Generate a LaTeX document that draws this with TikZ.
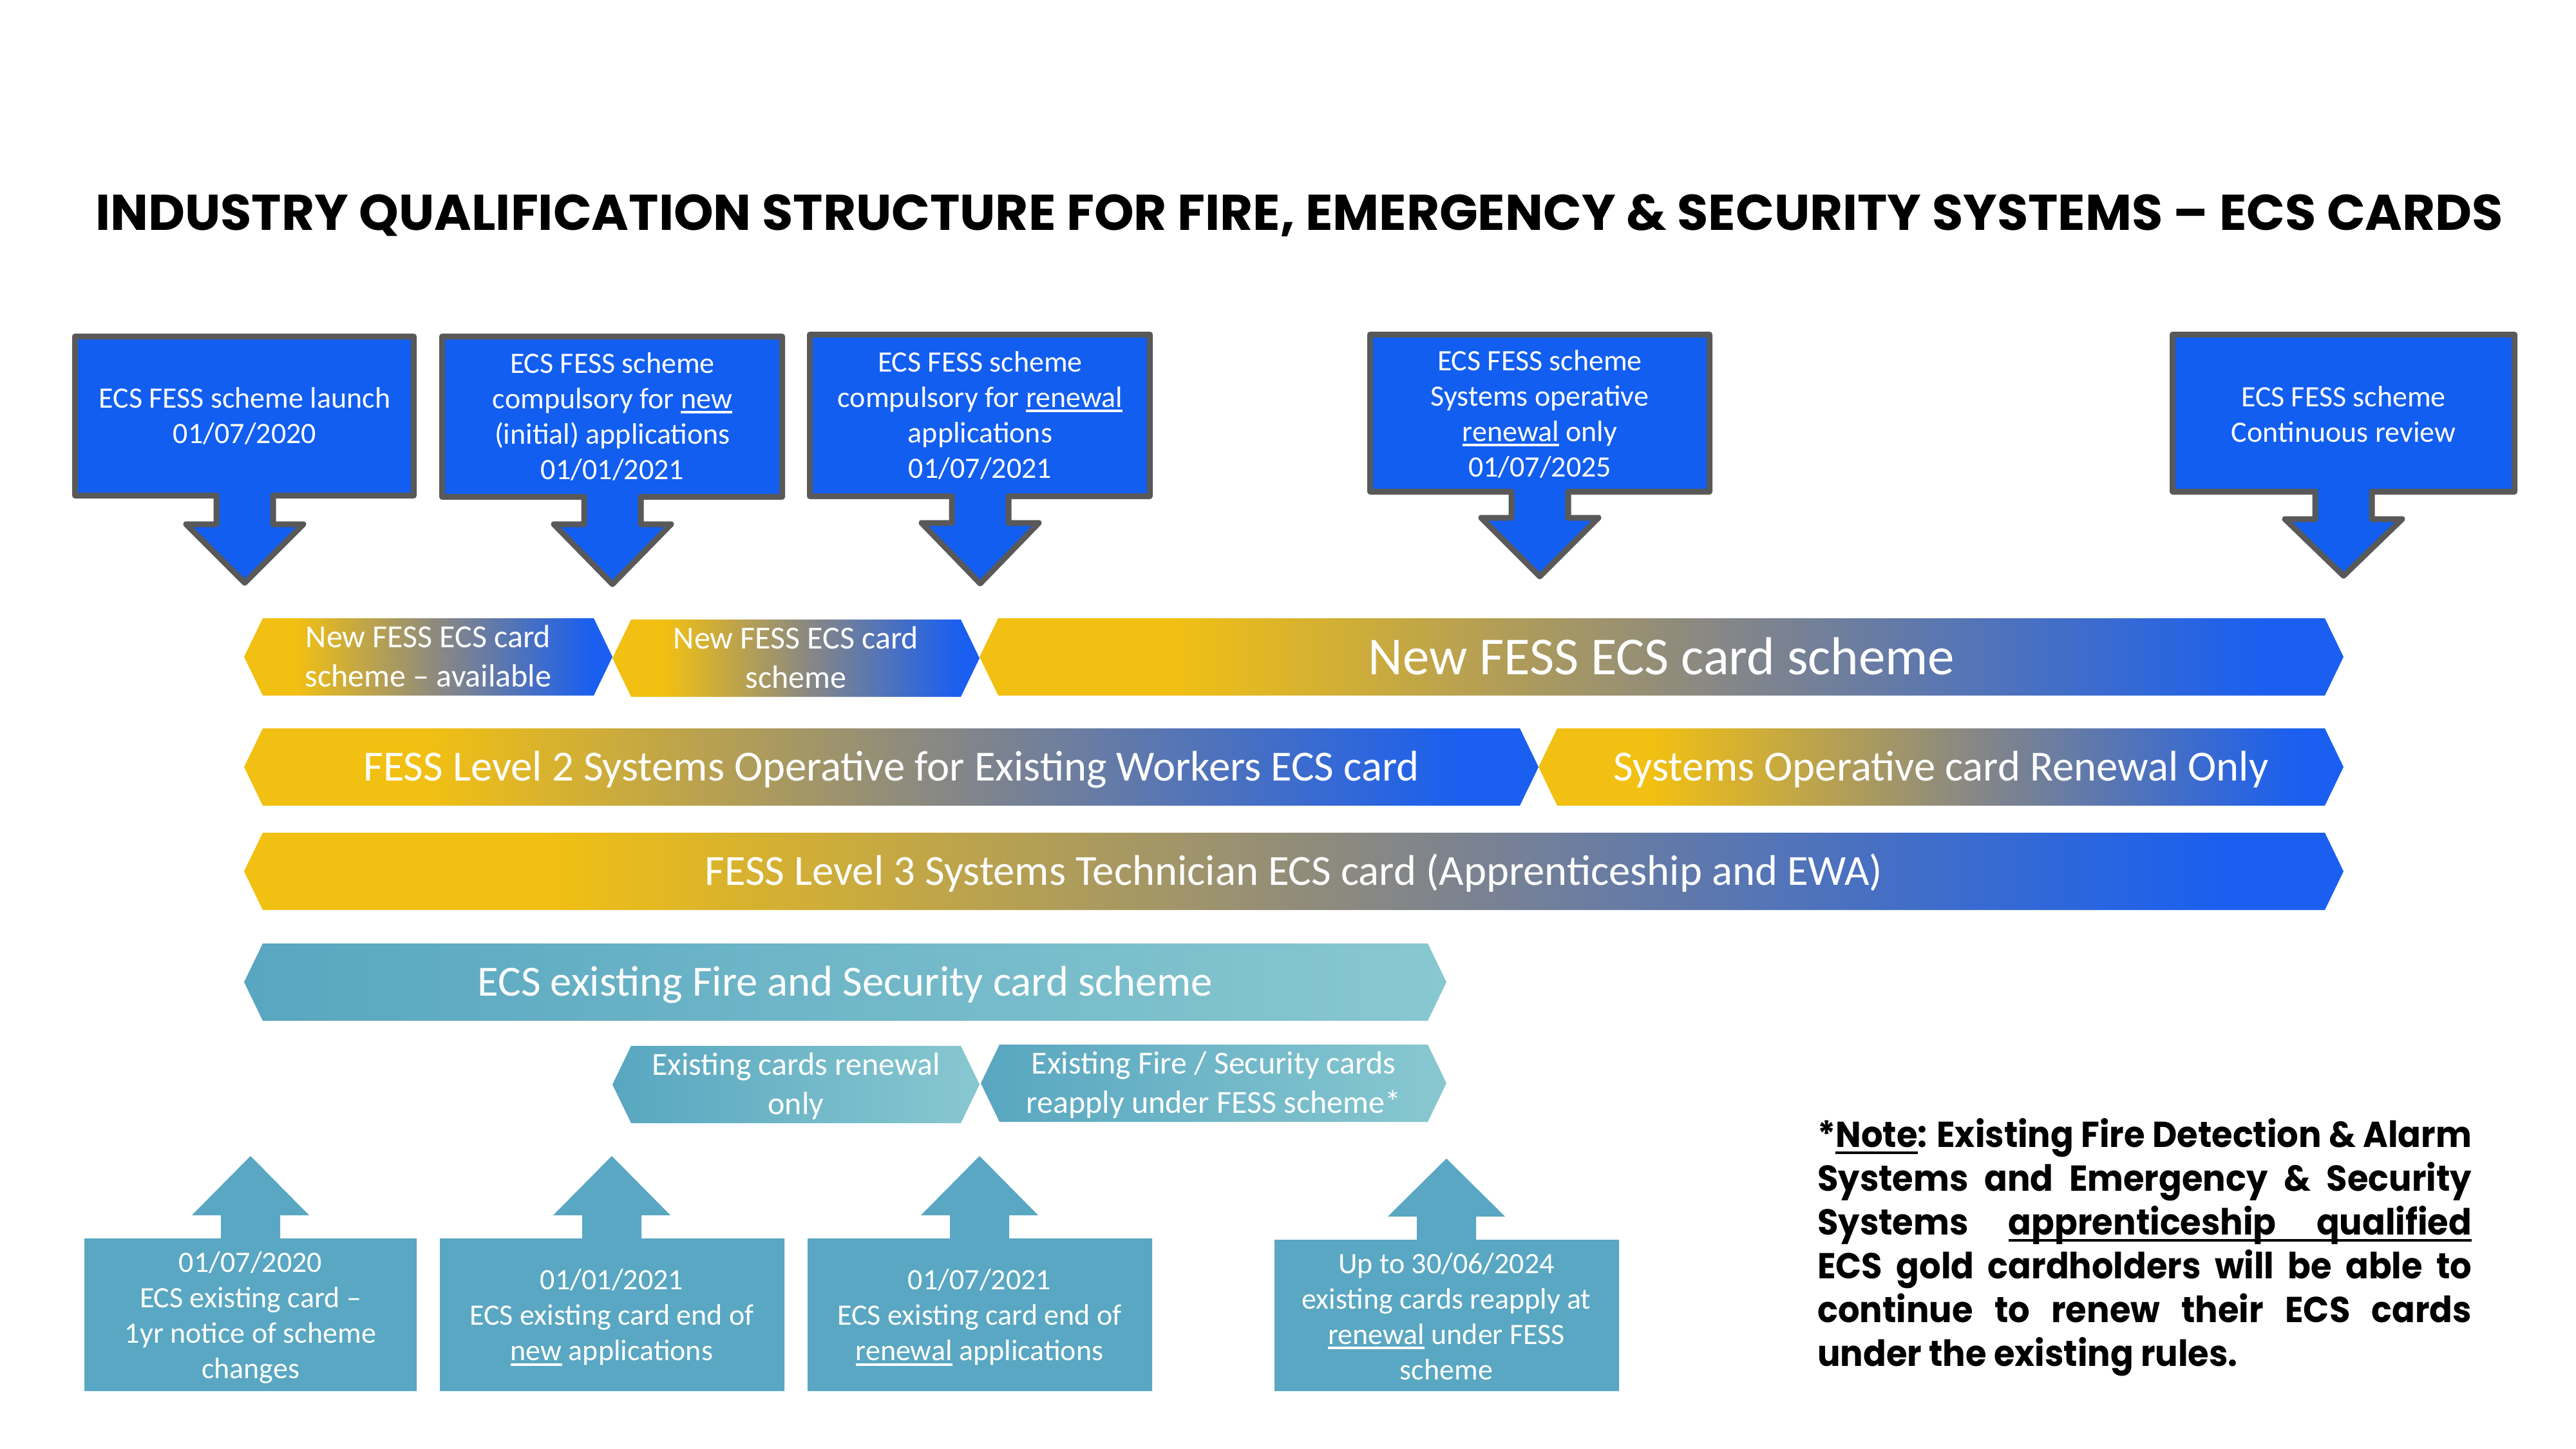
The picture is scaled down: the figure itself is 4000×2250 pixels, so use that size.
\documentclass[tikz,border=0pt]{standalone}
\usepackage{fontspec}
\setmainfont{Carlito}
\newfontfamily\headfont{Poppins}
\usepackage{graphicx}
\definecolor{boxblue}{RGB}{17,94,240}
\definecolor{boxgray}{RGB}{89,89,89}
\definecolor{ecsteal}{RGB}{89,167,194}
\pgfdeclarehorizontalshading{goldblue}{100bp}{rgb(0bp)=(0.949,0.753,0.071); rgb(32bp)=(0.949,0.753,0.071); rgb(52bp)=(0.53,0.53,0.52); rgb(72bp)=(0.102,0.373,0.937); rgb(100bp)=(0.102,0.373,0.937)}
\pgfdeclarehorizontalshading{tealgrad}{100bp}{rgb(0bp)=(0.345,0.651,0.753); rgb(25bp)=(0.345,0.651,0.753); rgb(75bp)=(0.533,0.784,0.816); rgb(100bp)=(0.533,0.784,0.816)}
\newcommand\ulw[1]{\leavevmode\setbox0=\hbox{#1}\rlap{\rule[-8pt]{\wd0}{4pt}}\box0\relax}
\newcommand\ulx[1]{\leavevmode\setbox0=\hbox{#1}\rlap{\rule[-11pt]{\wd0}{4.5pt}}\box0\relax}
\newcommand\notefont{\headfont\bfseries\fontsize{56}{68}\selectfont}
\newlength\noteW
\newlength\ulL
\newcommand\hexbar[4]{\shade[shading=#1] (#2,#4) -- ({#2+29},{#4-60}) -- ({#3-29},{#4-60}) -- (#3,#4) -- ({#3-29},{#4+60}) -- ({#2+29},{#4+60}) -- cycle;}
\newcommand\downbox[7]{\filldraw[callout] (#1,#3) -- (#2,#3) -- (#2,#4) -- ({#5+44},#4) -- ({#5+44},#6) -- ({#5+91},#6) -- (#5,#7) -- ({#5-91},#6) -- ({#5-44},#6) -- ({#5-44},#4) -- (#1,#4) -- cycle;}
\newcommand\upbox[7]{\fill[ecsteal] (#1,#3) -- ({#5-46},#3) -- ({#5-46},#6) -- ({#5-91},#6) -- (#5,#7) -- ({#5+91},#6) -- ({#5+46},#6) -- ({#5+46},#3) -- (#2,#3) -- (#2,#4) -- (#1,#4) -- cycle;}
\tikzset{
  callout/.style={fill=boxblue, draw=boxgray, line width=9pt, line join=round},
  boxtext/.style={text=white, inner sep=0pt, anchor=base, font=\fontsize{46}{55}\selectfont},
  bartext/.style={text=white, inner sep=0pt, anchor=base},
  smallbar/.style={bartext, font=\fontsize{50}{61}\selectfont},
  rowbar/.style={bartext, font=\fontsize{66.7}{80}\selectfont},
}
\begin{document}
\begin{tikzpicture}[x=1pt,y=-1pt]
\useasboundingbox (0,0) rectangle (4000,2250);
\fill[white] (0,0) rectangle (4000,2250);

% title
\node[anchor=base west, inner sep=0pt] (title) at (148,357) {\resizebox{3739pt}{\height}{\headfont\bfseries\fontsize{78}{86}\selectfont INDUSTRY QUALIFICATION STRUCTURE FOR FIRE, EMERGENCY \& SECURITY SYSTEMS – ECS CARDS}};

% top callouts
\downbox{116.5}{642.5}{522.5}{769.5}{380}{814}{905}
\downbox{686.5}{1214.5}{522.5}{771.5}{951}{814}{907}
\downbox{1257.5}{1785.5}{519.5}{770.5}{1522}{812}{906}
\downbox{2127.5}{2654.5}{519.5}{763.5}{2391}{804}{895}
\downbox{3373.5}{3904.5}{519.5}{763.5}{3639}{806}{894}

\node[boxtext] (t1) at (380,633.3) {\parbox[t]{520pt}{\centering ECS FESS scheme launch\\01/07/2020}};
\node[boxtext] (t2) at (951,579.3) {\parbox[t]{520pt}{\centering ECS FESS scheme\\compulsory for \ulw{new}\\(initial) applications\\01/01/2021}};
\node[boxtext] (t3) at (1522,577.3) {\parbox[t]{520pt}{\centering ECS FESS scheme\\compulsory for \ulw{renewal}\\applications\\01/07/2021}};
\node[boxtext] (t4) at (2391,575.3) {\parbox[t]{520pt}{\centering ECS FESS scheme\\Systems operative\\\ulw{renewal} only\\01/07/2025}};
\node[boxtext] (t5) at (3639,631.3) {\parbox[t]{520pt}{\centering ECS FESS scheme\\Continuous review}};

% bars
\hexbar{goldblue}{379}{951}{1020}
\hexbar{goldblue}{951}{1521}{1022}
\hexbar{goldblue}{1521}{3639}{1020}
\hexbar{goldblue}{379}{2389}{1191}
\hexbar{goldblue}{2389}{3639}{1191}
\hexbar{goldblue}{379}{3639}{1353}
\hexbar{tealgrad}{379}{2246}{1525}
\hexbar{tealgrad}{951}{1521}{1684}
\hexbar{tealgrad}{1523}{2246}{1682}

\node[smallbar] (b1) at (665,1005.6) {\parbox[t]{560pt}{\centering New FESS ECS card\\scheme – available}};
\node[smallbar] (b2) at (1236,1007.6) {\parbox[t]{560pt}{\centering New FESS ECS card\\scheme}};
\node[bartext, font=\fontsize{83}{100}\selectfont] (b3) at (2580,1047) {New FESS ECS card scheme};
\node[rowbar] (b4) at (1384,1212.5) {FESS Level 2 Systems Operative for Existing Workers ECS card};
\node[rowbar] (b5) at (3014,1212.5) {Systems Operative card Renewal Only};
\node[rowbar] (b6) at (2009,1374.5) {FESS Level 3 Systems Technician ECS card (Apprenticeship and EWA)};
\node[rowbar] (b7) at (1312.5,1546.5) {ECS existing Fire and Security card scheme};
\node[smallbar] (b8) at (1236,1669.6) {\parbox[t]{560pt}{\centering Existing cards renewal\\only}};
\node[smallbar] (b9) at (1884.5,1667.6) {\parbox[t]{700pt}{\centering Existing Fire / Security cards\\reapply under FESS scheme*}};

% bottom boxes
\upbox{131}{647}{1923}{2160}{389}{1887}{1795}
\upbox{683}{1218}{1923}{2160}{950}{1887}{1795}
\upbox{1254}{1789}{1923}{2160}{1521}{1887}{1795}
\upbox{1979}{2514}{1925}{2160}{2246}{1889}{1799}

\node[boxtext] (u1) at (389,1975.3) {\parbox[t]{520pt}{\centering 01/07/2020\\ECS existing card –\\1yr notice of scheme\\changes}};
\node[boxtext] (u2) at (950,2002.8) {\parbox[t]{520pt}{\centering 01/01/2021\\ECS existing card end of\\\ulw{new} applications}};
\node[boxtext] (u3) at (1521,2002.8) {\parbox[t]{520pt}{\centering 01/07/2021\\ECS existing card end of\\\ulw{renewal} applications}};
\node[boxtext] (u4) at (2246,1977.3) {\parbox[t]{520pt}{\centering Up to 30/06/2024\\existing cards reapply at\\\ulw{renewal} under FESS\\scheme}};

% note
\node[anchor=base west, inner sep=0pt] (note) at (2822,1781) {\notefont
\settowidth{\noteW}{*\ulx{Note}: Existing Fire Detection \& Alarm}%
\setbox1=\hbox{Systems}\setbox2=\hbox{apprenticeship}\setbox3=\hbox{qualified}%
\setlength{\ulL}{\dimexpr(\noteW-\wd1+\wd2+\wd3)/2\relax}%
\resizebox{1016pt}{\height}{\parbox[t]{\noteW}{\notefont
\hbox to\noteW{*\ulx{Note}: Existing Fire Detection \& Alarm}
\hbox to\noteW{Systems and Emergency \& Security}
\hbox to\noteW{Systems\hfil\ulx{\hbox to\ulL{apprenticeship\hfil qualified}}}
\hbox to\noteW{ECS gold cardholders will be able to}
\hbox to\noteW{continue to renew their ECS cards}
\hbox{under the existing rules.}}}};
\end{tikzpicture}
\end{document}
